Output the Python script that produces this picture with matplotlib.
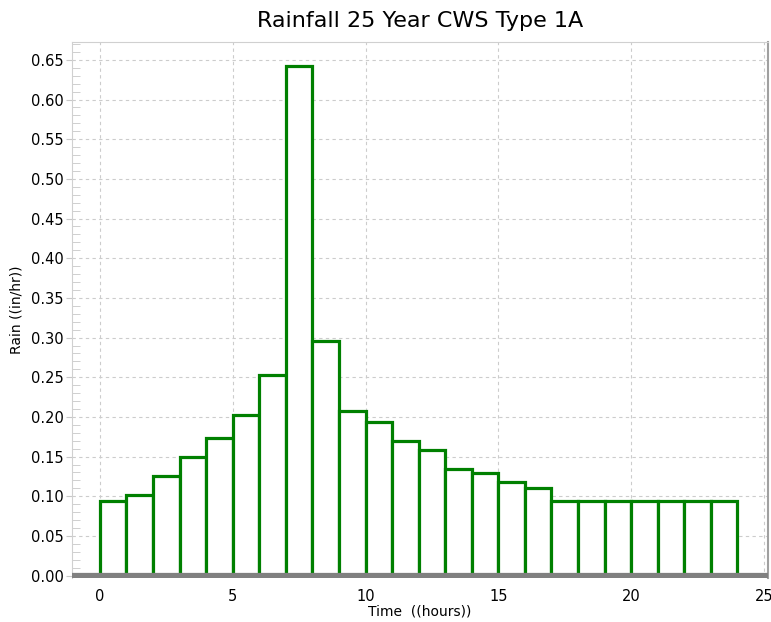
import matplotlib
matplotlib.use("Agg")
import matplotlib.pyplot as plt
from matplotlib.ticker import MultipleLocator, FormatStrFormatter

plt.rcParams['font.family'] = ['DejaVu Sans']

hours = list(range(24))
rain = [0.094, 0.102, 0.125, 0.149, 0.174, 0.202, 0.253, 0.642,
        0.296, 0.207, 0.194, 0.170, 0.158, 0.134, 0.129, 0.118,
        0.110, 0.094, 0.094, 0.094, 0.094, 0.094, 0.094, 0.094]

fig = plt.figure(figsize=(7.71, 6.22), dpi=100)
ax = fig.add_axes([72/771, (622-578)/622, (768-72)/771, (578-42)/622])

ax.bar(hours, rain, width=1.0, align='edge', facecolor='white',
       edgecolor='#008000', linewidth=2.3, zorder=3)

ax.set_xlim(-1.05, 25.15)
ax.set_ylim(-0.003, 0.6725)
ax.axhline(0, color='#808080', linewidth=4.5, zorder=4, xmin=0.005, xmax=0.997)

ax.xaxis.set_major_locator(MultipleLocator(5))
ax.yaxis.set_major_locator(MultipleLocator(0.05))
ax.yaxis.set_minor_locator(MultipleLocator(0.01))
ax.yaxis.set_major_formatter(FormatStrFormatter('%.2f'))

ax.grid(True, which='major', linestyle=(0, (3, 3)), color='#cccccc', linewidth=0.8, zorder=0)
ax.tick_params(axis='both', which='major', labelsize=10.5, length=4, color='#c8c8c8')
ax.tick_params(axis='y', which='major', pad=2)
ax.tick_params(axis='y', which='minor', direction='in', length=6, color='#c8c8c8')
ax.tick_params(axis='x', which='major', length=0, pad=8)

for s in ['left', 'top']:
    ax.spines[s].set_color('#d0d0d0')
ax.spines['right'].set_color('#a0a0a0')
ax.spines['right'].set_linewidth(1.5)
ax.spines['bottom'].set_visible(False)

ax.set_title('Rainfall 25 Year CWS Type 1A', fontsize=16, pad=11)
ax.set_xlabel('Time  ((hours))', fontsize=10, labelpad=0)
ax.set_ylabel('Rain ((in/hr))', fontsize=10, labelpad=5)

fig.savefig('out.png', dpi=100)
